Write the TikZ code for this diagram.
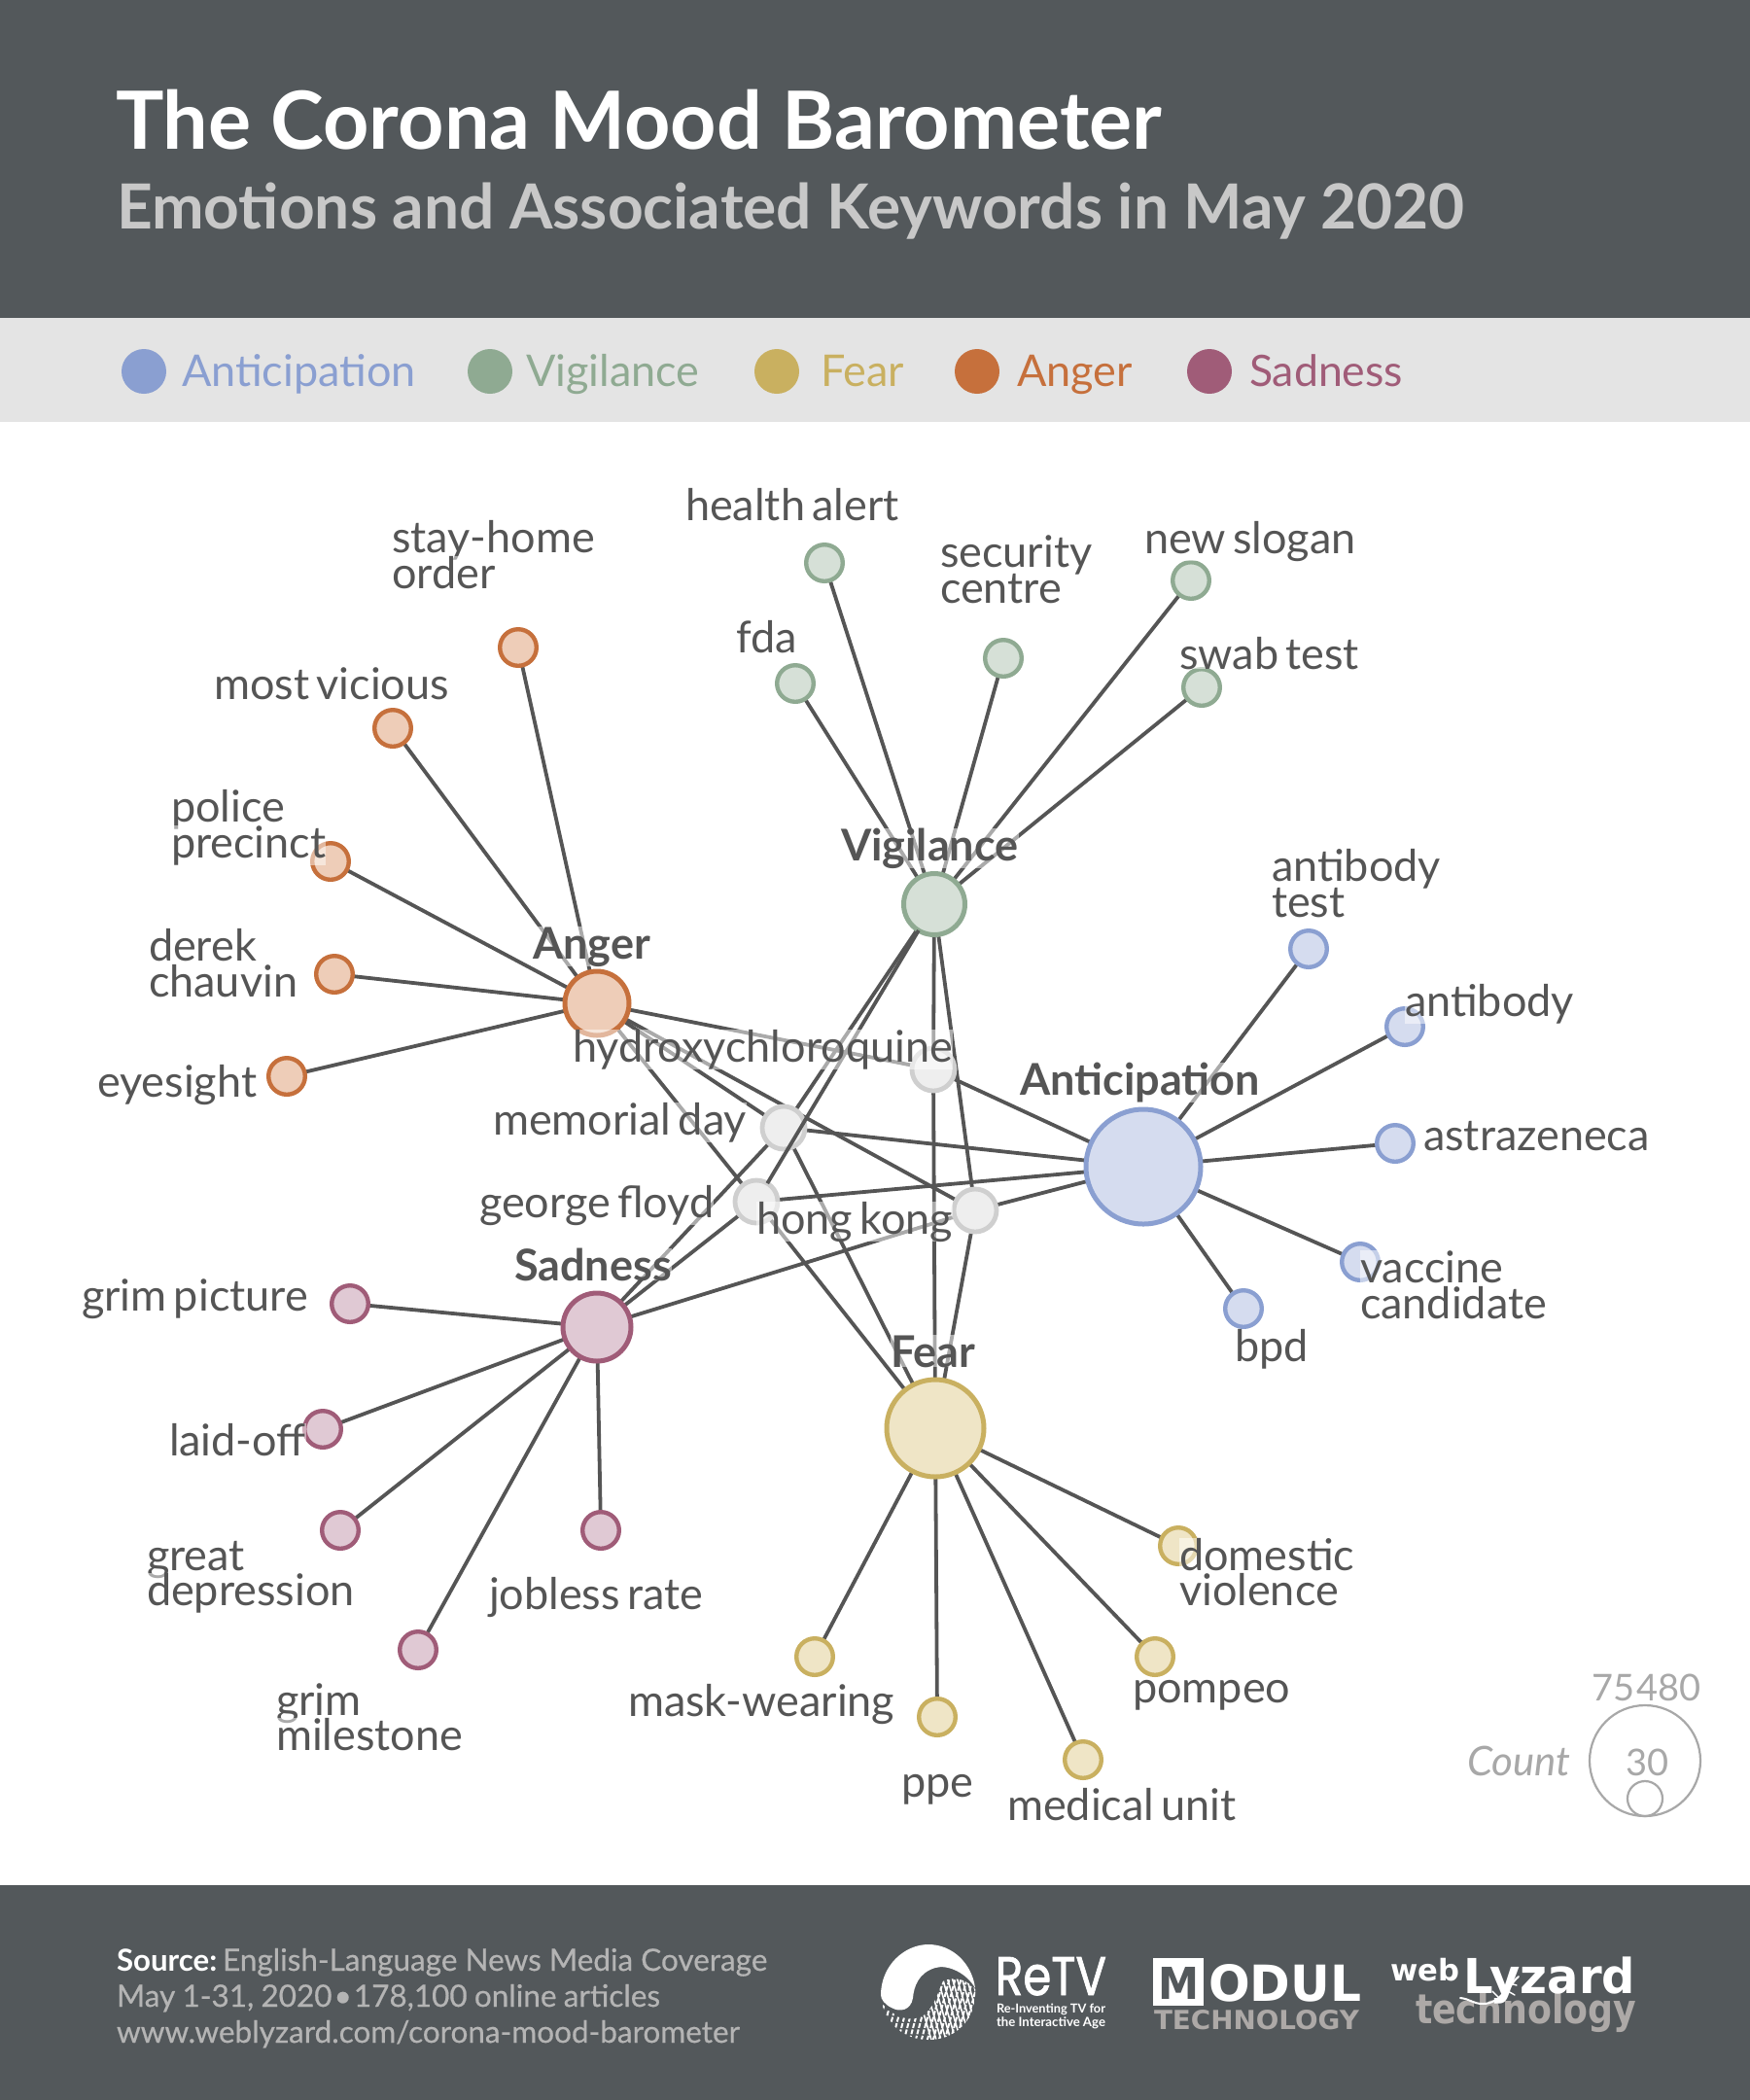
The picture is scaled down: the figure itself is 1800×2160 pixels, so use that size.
\documentclass[tikz,border=0pt]{standalone}
\usepackage{fontspec}
\setmainfont{Lato}
\newfontfamily\footfont[FakeBold=0.5]{Lato}
\newfontfamily\logofont{DejaVu Sans}
\newfontfamily\retvfont[FakeBold=1.5]{Poppins}
\usetikzlibrary{calc}
\definecolor{hdr}{HTML}{53585B}
\definecolor{band}{HTML}{E4E4E4}
\definecolor{ink}{HTML}{555555}
\definecolor{cA}{HTML}{8A9FD1}\definecolor{fA}{HTML}{D5DCEF}
\definecolor{cV}{HTML}{8FAA92}\definecolor{fV}{HTML}{D6E0D7}
\definecolor{cF}{HTML}{C9B060}\definecolor{fF}{HTML}{EFE5C6}
\definecolor{cG}{HTML}{C6703C}\definecolor{fG}{HTML}{EECDB8}
\definecolor{cS}{HTML}{A05C78}\definecolor{fS}{HTML}{E0C9D4}
\definecolor{cN}{HTML}{CFCFCF}\definecolor{fN}{HTML}{EEEEEE}
\definecolor{sub}{HTML}{C8C8C8}
\definecolor{cnt}{HTML}{A8A8A8}
\definecolor{foot}{HTML}{B4B4B4}
\definecolor{logog}{HTML}{ADA9A7}
\pgfdeclarelayer{edges}
\pgfsetlayers{edges,main}
\newcommand{\fs}[1]{\fontsize{#1pt}{#1pt}\selectfont}
\newcommand{\lab}[3]{%
  \node[txt,ink,fill=white,fill opacity=.5,text opacity=1] at (#1,#2) {\fs{22.5}\spaceskip=.165em #3};}
\newcommand{\labb}[3]{%
  \node[txt,ink,fill=white,fill opacity=.5,text opacity=1] at (#1,#2) {\fs{22.5}\bfseries #3};}
\tikzset{
  x=0.5pt,y=-0.5pt,
  txt/.style={anchor=base west,inner sep=0,outer sep=0},
  hub/.style={circle,inner sep=0,outer sep=0,line width=2.5pt,minimum size=#1},
  leaf/.style={circle,inner sep=0,outer sep=0,line width=2.2pt,minimum size=18.8pt},
  kA/.style={draw=cA,fill=fA},kV/.style={draw=cV,fill=fV},kF/.style={draw=cF,fill=fF},
  kG/.style={draw=cG,fill=fG},kS/.style={draw=cS,fill=fS},
  shared/.style={circle,inner sep=0,outer sep=0,line width=2.4pt,minimum size=22pt,draw=cN,fill=fN},
  edge/.style={draw=ink,line width=1.9pt},
  dot/.style={circle,inner sep=0,minimum size=23pt},
}
\begin{document}
\begin{tikzpicture}
\useasboundingbox (0,0) rectangle (1800,2160);
\begin{pgfonlayer}{edges}
\fill[white] (0,0) rectangle (1800,2160);
\end{pgfonlayer}
\fill[hdr] (0,0) rectangle (1800,327);
\fill[band] (0,327) rectangle (1800,434);
\fill[hdr] (0,1939) rectangle (1800,2160);
% title
\node[txt,white] (title) at (119,153) {\fs{41.3}\bfseries The Corona Mood Barometer};
\node[txt,sub] (subtitle) at (120,235) {\fs{32}\bfseries Emotions and Associated Keywords in May 2020};
% legend
\node[dot,fill=cA] (la) at (148,382) {};
\node[dot,fill=cV] (lv) at (504,382) {};
\node[dot,fill=cF] (lf) at (799,382) {};
\node[dot,fill=cG] (lg) at (1005,382) {};
\node[dot,fill=cS] (ls) at (1244,382) {};
\node[txt,cA] at (187,397) {\fs{22.5}Anticipation};
\node[txt,cV] at (541,397) {\fs{22.5}Vigilance};
\node[txt,cF] at (844,397) {\fs{22.5}Fear};
\node[txt,cG] at (1046,397) {\fs{22.5}Anger};
\node[txt,cS] at (1285,397) {\fs{22.3}Sadness};
% hubs
\node[hub=31.5pt,kV] (V) at (961,930) {};
\node[hub=33pt,kG] (G) at (614,1032) {};
\node[hub=35pt,kS] (S) at (614,1365) {};
\node[hub=50pt,kF] (F) at (962,1469) {};
\node[hub=59pt,kA] (A) at (1176,1200) {};
% shared
\node[shared] (hy) at (960,1100) {};
\node[shared] (me) at (806,1160) {};
\node[shared] (ge) at (778,1236) {};
\node[shared] (ho) at (1003,1245) {};
% leaves
\foreach \n/\x/\y in {v1/848/579,v2/1032/677,v3/1225/597,v4/1236/707,v5/818/703}
  \node[leaf,kV] (\n) at (\x,\y) {};
\foreach \n/\x/\y in {g1/533/666,g2/404/749,g3/340/886,g4/344/1002,g5/295/1107}
  \node[leaf,kG] (\n) at (\x,\y) {};
\foreach \n/\x/\y in {a1/1346/976,a2/1445/1056,a3/1435/1176,a4/1399/1298,a5/1279/1346}
  \node[leaf,kA] (\n) at (\x,\y) {};
\foreach \n/\x/\y in {s1/360/1341,s2/332/1470,s3/350/1574,s4/430/1697,s5/618/1574}
  \node[leaf,kS] (\n) at (\x,\y) {};
\foreach \n/\x/\y in {f1/838/1704,f2/964/1766,f3/1114/1810,f4/1188/1704,f5/1212/1590}
  \node[leaf,kF] (\n) at (\x,\y) {};
% edges
\begin{pgfonlayer}{edges}
\foreach \h/\l in {V/v1,V/v2,V/v3,V/v4,V/v5,G/g1,G/g2,G/g3,G/g4,G/g5,A/a1,A/a2,A/a3,A/a4,A/a5,S/s1,S/s2,S/s3,S/s4,S/s5,F/f1,F/f2,F/f3,F/f4,F/f5,
  hy/G,hy/V,hy/A,hy/F,me/G,me/V,me/A,me/F,me/S,ge/G,ge/A,ge/F,ge/S,ho/G,ho/V,ho/A,ho/F,ho/S}
  \path[edge] (\h) -- (\l);
\end{pgfonlayer}
\path[edge] (ge) -- (V);
% labels
\lab{705}{535}{health alert}
\lab{403}{568}{stay-home}
\lab{403}{605}{order}
\lab{967}{583}{security}
\lab{967}{620}{centre}
\lab{1177}{569}{new slogan}
\lab{1213}{688}{swab test}
\lab{757}{671}{fda}
\lab{220}{719}{most vicious}
\lab{176}{845}{police}
\lab{176}{882}{precinct}
\lab{153}{988}{derek}
\lab{153}{1025}{chauvin}
\lab{100}{1128}{eyesight}
\lab{1308}{906}{antibody}
\lab{1308}{943}{test}
\lab{1445}{1045}{antibody}
\lab{1464}{1183}{astrazeneca}
\lab{1399}{1319}{vaccine}
\lab{1399}{1356}{candidate}
\lab{1270}{1400}{bpd}
\lab{589}{1092}{hydroxychloroquine}
\lab{507}{1167}{memorial day}
\lab{493}{1252}{george floyd}
\lab{778}{1269}{hong kong}
\lab{84}{1348}{grim picture}
\lab{174}{1497}{laid-off}
\lab{151}{1615}{great}
\lab{151}{1651}{depression}
\lab{284}{1764}{grim}
\lab{284}{1800}{milestone}
\lab{503}{1655}{jobless rate}
\lab{646}{1765}{mask-wearing}
\lab{927}{1848}{ppe}
\lab{1036}{1872}{medical unit}
\lab{1165}{1751}{pompeo}
\lab{1213}{1615}{domestic}
\lab{1213}{1651}{violence}
\labb{548}{986}{Anger}
\labb{865}{885}{Vigilance}
\labb{1049}{1126}{Anticipation}
\labb{529}{1317}{Sadness}
\labb{916}{1406}{Fear}
% count legend
\node[circle,draw=cnt,line width=1.1pt,minimum size=57pt,inner sep=0] (cb) at (1692,1811) {};
\node[circle,draw=cnt,line width=1.1pt,minimum size=18pt,inner sep=0] (cs) at (1692,1850) {};
\node[txt,cnt] at (1637,1749) {\fs{19}75\kern1pt480};
\node[txt,cnt] at (1672,1826) {\fs{19}30};
\node[txt,cnt] at (1509,1826) {\fs{21}\itshape Count};
% footer
\node[txt,white] at (120,2027) {\fs{15.6}\bfseries Source:};
\node[txt,foot] at (229,2027) {\fs{15.75}\footfont English-Language News Media Coverage};
\node[txt,foot] at (120,2064) {\fs{15.75}\footfont\spaceskip=.23em May 1-31, 2020\kern-2.6pt{} • \kern-2.6pt{}178,100 online articles};
\node[txt,foot] at (120,2101) {\fs{15.75}\footfont www.weblyzard.com/corona-mood-barometer};
% ReTV logo
\fill[white] (906,2052) .. controls (906,2022) and (930,2000) .. (955,2000)
  .. controls (980,2000) and (1000,2020) .. (1003,2045)
  .. controls (995,2030) and (975,2020) .. (962,2024)
  .. controls (945,2029) and (940,2043) .. (939,2055)
  .. controls (937,2068) and (925,2070) .. (917,2065)
  .. controls (910,2062) and (906,2056) .. (906,2052) -- cycle;
\begin{scope}
\clip (1003,2046) .. controls (1005,2075) and (985,2098) .. (955,2098)
  .. controls (930,2098) and (912,2082) .. (907,2060)
  .. controls (915,2072) and (935,2082) .. (950,2073)
  .. controls (962,2063) and (964,2050) .. (970,2038)
  .. controls (980,2032) and (995,2036) .. (1003,2046) -- cycle;
\foreach \i in {0,...,24}
  \draw[white,line width=1pt,dash pattern=on 2.5pt off .8pt] (880+\i*6,2105) -- ++(28,-105);
\foreach \i in {0,...,18}
  \draw[white,line width=.8pt] (960+\i*5,2105) -- ++(-22,-75);
\end{scope}
\node[txt,white] at (1024,2052) {\resizebox{57pt}{19.5pt}{\retvfont ReTV}};
\node[txt,white] at (1025,2070) {\resizebox{56pt}{!}{\fs{10}\bfseries Re-Inventing TV for}};
\node[txt,white] at (1025,2084) {\resizebox{56pt}{!}{\fs{10}\bfseries the Interactive Age}};
% MODUL logo
\fill[white] (1186,2014) rectangle (1238,2063);
\node[txt,hdr] at (1191,2056) {\resizebox{21pt}{16.5pt}{\logofont\bfseries M}};
\node[txt,white] at (1243,2058) {\resizebox{78.5pt}{19pt}{\logofont\bfseries ODUL}};
\node[txt,logog] at (1187,2087) {\resizebox{105.5pt}{10pt}{\logofont\bfseries TECHNOLOGY}};
% webLyzard logo
\node[txt,white] at (1430,2037) {\resizebox{35.5pt}{!}{\fs{14}\logofont\bfseries web}};
\node[txt,logog] at (1456,2081) {\resizebox{113.5pt}{16pt}{\fs{20}\logofont\bfseries technology}};
\node[txt,white] at (1505,2050) {\resizebox{88.5pt}{18.8pt}{\fs{24}\logofont\bfseries Lyzard}};
\draw[white,line width=1pt,line cap=round] (1502,2055) .. controls (1512,2056) and (1515,2061) .. (1525,2061)
  .. controls (1540,2061) and (1545,2050) .. (1552,2045) .. controls (1556,2040) and (1558,2036) .. (1562,2033);
\draw[white,line width=.7pt,line cap=round] (1535,2048) -- (1541,2054) (1551,2048) -- (1558,2052) (1553,2040) -- (1560,2042);
\end{tikzpicture}
\end{document}
